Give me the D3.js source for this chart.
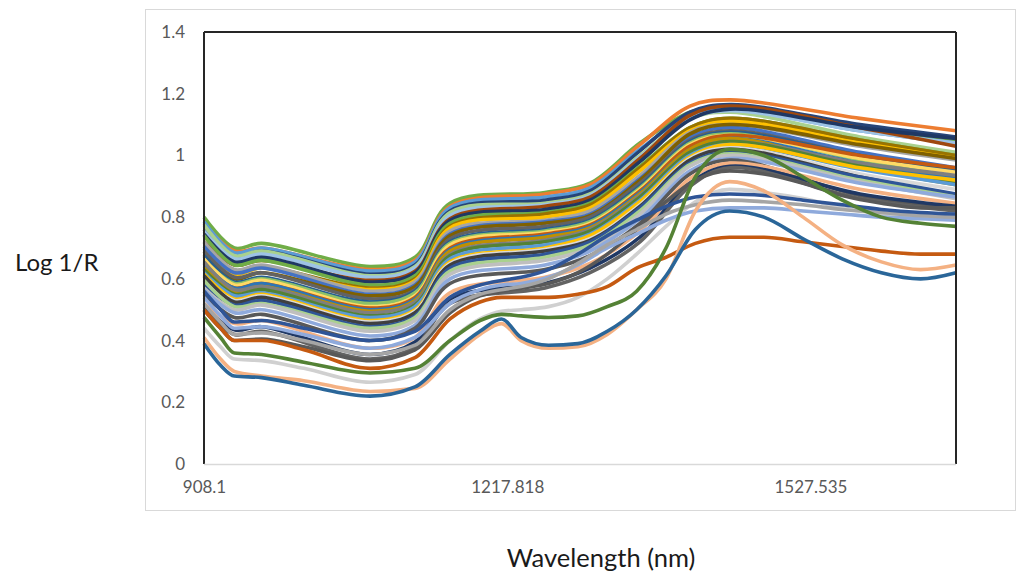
<!DOCTYPE html>
<html>
<head>
<meta charset="utf-8">
<script src="https://cdn.jsdelivr.net/npm/d3@7"></script>
<style>
  html, body { margin: 0; padding: 0; background: #fff; }
  svg { display: block; }
</style>
</head>
<body>
<svg id="chart" width="1021" height="576"></svg>
<script>
// ---- axis definitions ----
const yTickValues = [0, 0.2, 0.4, 0.6, 0.8, 1, 1.2, 1.4];
const xTickValues = [908.1, 1217.818, 1527.535];
const xTickLabels = ["908.1", "1217.818", "1527.535"];
const wavelengthRange = [908.1, 1676.2];
const yTitle = "Log 1/R";
const xTitle = "Wavelength (nm)";

// ---- main family of spectra, sampled at shared band positions (nm) ----
const bulkWavelengths = [908.1, 939.1, 967.0, 1077.7, 1123.6, 1159.4, 1256.4, 1302.4, 1353.4, 1404.5, 1445.3, 1578.1, 1676.2];

const spectrum01 = [0.80, 0.70, 0.715, 0.64, 0.67, 0.845, 0.88, 0.91, 1.04, 1.14, 1.16, 1.09, 1.05];
const spectrum02 = [0.78, 0.69, 0.70, 0.63, 0.66, 0.835, 0.875, 0.905, 1.035, 1.16, 1.18, 1.12, 1.08];
const spectrum03 = [0.785, 0.685, 0.70, 0.625, 0.655, 0.83, 0.865, 0.895, 1.02, 1.13, 1.15, 1.08, 1.04];
const spectrum04 = [0.76, 0.67, 0.69, 0.615, 0.645, 0.82, 0.855, 0.885, 1.015, 1.14, 1.165, 1.10, 1.06];
const spectrum05 = [0.775, 0.675, 0.69, 0.61, 0.64, 0.815, 0.845, 0.875, 1.0, 1.12, 1.14, 1.06, 1.01];
const spectrum06 = [0.755, 0.665, 0.68, 0.605, 0.635, 0.805, 0.84, 0.87, 0.995, 1.12, 1.145, 1.08, 1.04];
const spectrum07 = [0.72, 0.645, 0.66, 0.595, 0.625, 0.795, 0.835, 0.865, 0.99, 1.13, 1.16, 1.09, 1.03];
const spectrum08 = [0.745, 0.655, 0.67, 0.59, 0.62, 0.79, 0.825, 0.855, 0.98, 1.115, 1.15, 1.09, 1.055];
const spectrum09 = [0.74, 0.645, 0.66, 0.58, 0.61, 0.78, 0.815, 0.845, 0.965, 1.09, 1.12, 1.05, 1.0];
const spectrum10 = [0.70, 0.625, 0.64, 0.57, 0.60, 0.77, 0.81, 0.84, 0.96, 1.09, 1.12, 1.05, 1.0];
const spectrum11 = [0.69, 0.615, 0.635, 0.565, 0.595, 0.765, 0.80, 0.83, 0.95, 1.08, 1.11, 1.04, 0.99];
const spectrum12 = [0.72, 0.63, 0.645, 0.56, 0.59, 0.755, 0.79, 0.82, 0.935, 1.075, 1.10, 1.03, 0.985];
const spectrum13 = [0.705, 0.62, 0.635, 0.55, 0.58, 0.745, 0.785, 0.81, 0.925, 1.06, 1.09, 1.01, 0.96];
const spectrum14 = [0.68, 0.60, 0.62, 0.545, 0.575, 0.74, 0.78, 0.805, 0.92, 1.07, 1.10, 1.035, 0.99];
const spectrum15 = [0.69, 0.605, 0.62, 0.535, 0.565, 0.73, 0.77, 0.80, 0.91, 1.05, 1.08, 1.0, 0.95];
const spectrum16 = [0.675, 0.59, 0.605, 0.525, 0.56, 0.72, 0.76, 0.79, 0.90, 1.045, 1.075, 1.0, 0.955];
const spectrum17 = [0.66, 0.585, 0.60, 0.52, 0.555, 0.715, 0.755, 0.785, 0.895, 1.04, 1.07, 0.985, 0.93];
const spectrum18 = [0.665, 0.58, 0.595, 0.51, 0.545, 0.71, 0.75, 0.78, 0.89, 1.035, 1.065, 0.99, 0.945];
const spectrum19 = [0.64, 0.57, 0.585, 0.505, 0.54, 0.70, 0.745, 0.775, 0.885, 1.03, 1.065, 1.0, 0.96];
const spectrum20 = [0.65, 0.57, 0.585, 0.50, 0.535, 0.695, 0.74, 0.77, 0.88, 1.02, 1.055, 0.975, 0.925];
const spectrum21 = [0.635, 0.56, 0.575, 0.495, 0.53, 0.69, 0.735, 0.765, 0.875, 1.02, 1.055, 0.96, 0.905];
const spectrum22 = [0.655, 0.565, 0.575, 0.49, 0.525, 0.68, 0.725, 0.76, 0.87, 1.01, 1.045, 0.975, 0.935];
const spectrum23 = [0.63, 0.55, 0.565, 0.48, 0.515, 0.675, 0.72, 0.755, 0.865, 1.01, 1.045, 0.965, 0.915];
const spectrum24 = [0.62, 0.545, 0.555, 0.475, 0.51, 0.665, 0.71, 0.745, 0.855, 1.0, 1.035, 0.955, 0.905];
const spectrum25 = [0.615, 0.535, 0.55, 0.465, 0.50, 0.655, 0.70, 0.74, 0.85, 0.995, 1.035, 0.96, 0.92];
const spectrum26 = [0.60, 0.53, 0.545, 0.46, 0.495, 0.65, 0.695, 0.73, 0.84, 0.99, 1.025, 0.94, 0.89];
const spectrum27 = [0.61, 0.525, 0.54, 0.455, 0.49, 0.645, 0.69, 0.725, 0.835, 0.985, 1.02, 0.93, 0.87];
const spectrum28 = [0.58, 0.515, 0.53, 0.445, 0.48, 0.635, 0.68, 0.72, 0.83, 0.975, 1.01, 0.93, 0.875];
const spectrum29 = [0.595, 0.51, 0.52, 0.44, 0.475, 0.625, 0.67, 0.71, 0.82, 0.97, 1.005, 0.92, 0.865];
const spectrum30 = [0.57, 0.50, 0.515, 0.43, 0.465, 0.615, 0.66, 0.70, 0.81, 0.965, 1.0, 0.915, 0.86];
const spectrum31 = [0.565, 0.49, 0.50, 0.415, 0.45, 0.60, 0.645, 0.69, 0.795, 0.95, 0.99, 0.91, 0.865];
const spectrum32 = [0.55, 0.475, 0.485, 0.40, 0.44, 0.585, 0.63, 0.675, 0.78, 0.94, 0.985, 0.87, 0.83];
const spectrum33 = [0.52, 0.455, 0.465, 0.375, 0.41, 0.555, 0.605, 0.65, 0.755, 0.925, 0.975, 0.89, 0.845];
const spectrum34 = [0.51, 0.435, 0.445, 0.355, 0.395, 0.535, 0.585, 0.635, 0.735, 0.91, 0.965, 0.875, 0.835];
const spectrum35 = [0.50, 0.42, 0.43, 0.34, 0.38, 0.52, 0.57, 0.62, 0.72, 0.90, 0.96, 0.86, 0.82];

const bulkColors = [
  "#70AD47", "#ED7D31", "#5B9BD5", "#264478", "#A9D18E", "#9DC3E6", "#9E480E",
  "#1F3864", "#70AD47", "#997300", "#FFC000", "#A5A5A5", "#4472C4", "#7F6000",
  "#636363", "#255E91", "#8CC168", "#FFD966", "#C55A11", "#2E75B6", "#BF9000",
  "#7F7F7F", "#548235", "#5B9BD5", "#FFC000", "#D9D9D9", "#404040", "#2F5597",
  "#A9D18E", "#BFBFBF", "#8FAADC", "#595959", "#F4B183", "#203864", "#636363"
];

// ---- individually distinct spectra, sampled more finely (nm) ----
const fineWavelengths = [908.1, 925, 939.1, 967, 1010, 1077.7, 1123.6, 1159.4, 1190, 1212, 1232, 1260,
                         1290, 1320, 1350, 1380, 1410, 1445, 1480, 1520, 1560, 1600, 1640, 1676.2];

const lightGrayLow     = [0.44, 0.38, 0.34, 0.335, 0.31, 0.265, 0.29, 0.40, 0.47, 0.495, 0.50, 0.51, 0.54, 0.60, 0.68, 0.77, 0.85, 0.89, 0.88, 0.86, 0.83, 0.81, 0.80, 0.80];
const darkGrayLow      = [0.50, 0.44, 0.40, 0.405, 0.38, 0.335, 0.37, 0.49, 0.545, 0.56, 0.57, 0.585, 0.62, 0.68, 0.76, 0.85, 0.92, 0.95, 0.94, 0.91, 0.87, 0.845, 0.83, 0.83];
const plateauLightBlue = [0.54, 0.48, 0.44, 0.445, 0.42, 0.375, 0.41, 0.52, 0.565, 0.58, 0.585, 0.605, 0.645, 0.70, 0.745, 0.79, 0.82, 0.83, 0.83, 0.82, 0.81, 0.80, 0.795, 0.79];
const plateauGray      = [0.52, 0.46, 0.42, 0.425, 0.40, 0.355, 0.385, 0.50, 0.55, 0.565, 0.575, 0.60, 0.65, 0.71, 0.76, 0.81, 0.84, 0.855, 0.85, 0.84, 0.825, 0.815, 0.805, 0.80];
const plateauBlue      = [0.56, 0.50, 0.46, 0.465, 0.44, 0.40, 0.43, 0.54, 0.58, 0.595, 0.605, 0.63, 0.68, 0.74, 0.79, 0.835, 0.865, 0.875, 0.87, 0.855, 0.84, 0.825, 0.815, 0.81];
const darkOrange       = [0.50, 0.44, 0.40, 0.40, 0.37, 0.31, 0.345, 0.47, 0.525, 0.54, 0.54, 0.54, 0.55, 0.575, 0.635, 0.67, 0.715, 0.735, 0.735, 0.72, 0.705, 0.69, 0.68, 0.68];
const darkGreen        = [0.475, 0.41, 0.36, 0.355, 0.33, 0.295, 0.31, 0.40, 0.465, 0.485, 0.48, 0.475, 0.48, 0.51, 0.56, 0.70, 0.93, 1.02, 1.0, 0.93, 0.855, 0.80, 0.78, 0.77];
const peach            = [0.41, 0.34, 0.30, 0.285, 0.27, 0.235, 0.245, 0.34, 0.42, 0.455, 0.40, 0.375, 0.38, 0.42, 0.50, 0.60, 0.82, 0.915, 0.885, 0.80, 0.71, 0.655, 0.63, 0.645];
const lowBlue          = [0.39, 0.32, 0.285, 0.28, 0.255, 0.22, 0.25, 0.355, 0.43, 0.47, 0.41, 0.385, 0.39, 0.43, 0.50, 0.61, 0.76, 0.82, 0.80, 0.73, 0.665, 0.62, 0.60, 0.62];

const fineColors = ["#D0D0D0", "#595959", "#8FAADC", "#A5A5A5", "#2F5597", "#C55A11", "#548235", "#F4B183", "#2A6699"];

// ---- layout ----
const svg = d3.select("#chart");
const plot = { left: 204, right: 956, top: 32, bottom: 464 };
const fontFamily = "Lato, 'Open Sans', sans-serif";

// chart frame
svg.append("rect")
  .attr("x", 145.5).attr("y", 9.5)
  .attr("width", 870).attr("height", 501)
  .attr("fill", "#fff").attr("stroke", "#d9d9d9").attr("stroke-width", 1);

const x = d3.scaleLinear().domain(wavelengthRange).range([plot.left, plot.right]);
const y = d3.scaleLinear().domain([0, 1.4]).range([plot.bottom, plot.top]);

const smoothLine = d3.line()
  .x(d => x(d[0]))
  .y(d => y(d[1]))
  .curve(d3.curveCatmullRom.alpha(0.5));
const fineLine = d3.line()
  .x(d => x(d[0]))
  .y(d => y(d[1]))
  .curve(d3.curveMonotoneX);

const bulkSeries = [
  spectrum01, spectrum02, spectrum03, spectrum04, spectrum05, spectrum06, spectrum07,
  spectrum08, spectrum09, spectrum10, spectrum11, spectrum12, spectrum13, spectrum14,
  spectrum15, spectrum16, spectrum17, spectrum18, spectrum19, spectrum20, spectrum21,
  spectrum22, spectrum23, spectrum24, spectrum25, spectrum26, spectrum27, spectrum28,
  spectrum29, spectrum30, spectrum31, spectrum32, spectrum33, spectrum34, spectrum35
];
const fineSeries = [lightGrayLow, darkGrayLow, plateauLightBlue, plateauGray, plateauBlue,
                    darkOrange, darkGreen, peach, lowBlue];

const lines = svg.append("g").attr("fill", "none")
  .attr("stroke-width", 3.6)
  .attr("stroke-linejoin", "round")
  .attr("stroke-linecap", "butt");

bulkSeries.forEach((vals, i) => {
  lines.append("path")
    .datum(bulkWavelengths.map((w, j) => [w, vals[j]]))
    .attr("stroke", bulkColors[i])
    .attr("d", smoothLine);
});
fineSeries.forEach((vals, i) => {
  lines.append("path")
    .datum(fineWavelengths.map((w, j) => [w, vals[j]]))
    .attr("stroke", fineColors[i])
    .attr("d", fineLine);
});

// plot border: dark on top/left/right, light axis line at the bottom
const border = svg.append("g").attr("stroke", "#262626").attr("stroke-width", 2);
border.append("line").attr("x1", plot.left).attr("x2", plot.right).attr("y1", plot.top).attr("y2", plot.top);
border.append("line").attr("x1", plot.left).attr("x2", plot.left).attr("y1", plot.top).attr("y2", plot.bottom);
border.append("line").attr("x1", plot.right).attr("x2", plot.right).attr("y1", plot.top).attr("y2", plot.bottom);
svg.append("line")
  .attr("x1", plot.left).attr("x2", plot.right)
  .attr("y1", plot.bottom + 0.5).attr("y2", plot.bottom + 0.5)
  .attr("stroke", "#d9d9d9").attr("stroke-width", 1.5);

// y axis labels
const yAxis = svg.append("g")
  .attr("transform", `translate(${plot.left},0)`)
  .call(d3.axisLeft(y).tickValues(yTickValues).tickSize(0).tickPadding(19)
        .tickFormat(d3.format("~g")));
yAxis.select(".domain").remove();
yAxis.selectAll("text")
  .attr("font-family", fontFamily).attr("font-size", 17).attr("fill", "#595959");

// x axis labels
const xAxis = svg.append("g")
  .attr("transform", `translate(0,${plot.bottom})`)
  .call(d3.axisBottom(x).tickValues(xTickValues).tickSize(0).tickPadding(17)
        .tickFormat((d, i) => xTickLabels[i]));
xAxis.select(".domain").remove();
xAxis.selectAll("text")
  .attr("font-family", fontFamily).attr("font-size", 17).attr("fill", "#595959");

// axis titles
svg.append("text")
  .attr("x", 15).attr("y", 271)
  .attr("font-family", fontFamily).attr("font-size", 24).attr("fill", "#1a1a1a")
  .text(yTitle);
svg.append("text")
  .attr("x", 601).attr("y", 567).attr("text-anchor", "middle")
  .attr("font-family", fontFamily).attr("font-size", 25.5).attr("fill", "#1a1a1a")
  .text(xTitle);
</script>
</body>
</html>
